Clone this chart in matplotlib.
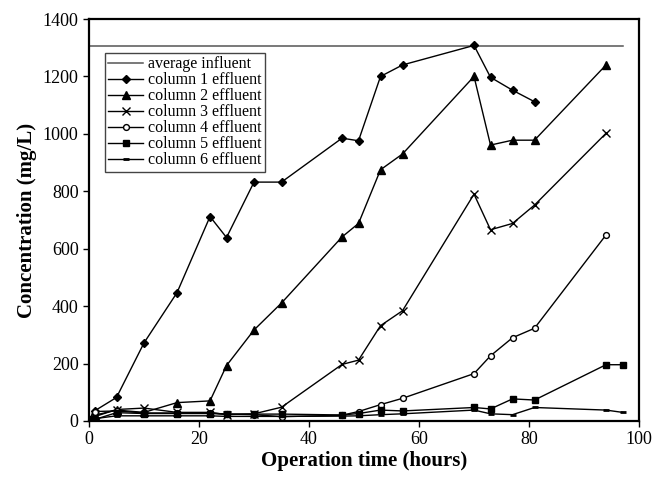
import numpy as np
import matplotlib
matplotlib.use('Agg')
import matplotlib.pyplot as plt

plt.rcParams['font.family'] = ['Liberation Serif', 'DejaVu Serif']

# Concentrations (mg/L) against operation time (hours)
influent_t = [0, 97]
influent_c = [1305, 1305]

col1_t = [0, 1, 5, 10, 16, 22, 25, 30, 35, 46, 49, 53, 57, 70, 73, 77, 81]
col1_c = [5, 35, 82, 272, 447, 712, 639, 832, 832, 985, 976, 1200, 1240, 1308, 1197, 1152, 1112]

col2_t = [0, 1, 5, 10, 16, 22, 25, 30, 35, 46, 49, 53, 57, 70, 73, 77, 81, 94]
col2_c = [5, 20, 38, 30, 64, 70, 193, 317, 411, 641, 688, 875, 930, 1200, 961, 978, 978, 1240]

col3_t = [0, 1, 5, 10, 16, 22, 25, 30, 35, 46, 49, 53, 57, 70, 73, 77, 81, 94]
col3_c = [5, 15, 40, 45, 30, 30, 22, 25, 48, 197, 212, 332, 384, 790, 666, 688, 752, 1002]

col4_t = [0, 1, 5, 10, 16, 22, 25, 30, 35, 46, 49, 53, 57, 70, 73, 77, 81, 94]
col4_c = [5, 33, 35, 28, 28, 28, 24, 22, 15, 20, 33, 57, 79, 165, 227, 290, 323, 648]

col5_t = [0, 1, 5, 10, 16, 22, 25, 30, 35, 46, 49, 53, 57, 70, 73, 77, 81, 94, 97]
col5_c = [0, 5, 29, 26, 26, 26, 24, 24, 24, 21, 26, 38, 35, 47, 42, 77, 73, 196, 196]

col6_t = [0, 1, 5, 10, 16, 22, 25, 30, 35, 46, 49, 53, 57, 70, 73, 77, 81, 94, 97]
col6_c = [0, 8, 18, 18, 18, 18, 16, 16, 16, 17, 18, 22, 25, 38, 25, 22, 47, 38, 30]

fig = plt.figure(figsize=(6.55, 4.79), dpi=100)
ax = fig.add_axes([0.1359, 0.1211, 0.8397, 0.8392])

ax.plot(influent_t, influent_c, color='#555555', lw=1.1, label='average influent')
ax.plot(col1_t, col1_c, color='black', lw=1, marker='D', ms=4.5, label='column 1 effluent')
ax.plot(col2_t, col2_c, color='black', lw=1, marker='^', ms=5.5, label='column 2 effluent')
ax.plot(col3_t, col3_c, color='black', lw=1, marker='x', ms=6, mew=1, label='column 3 effluent')
ax.plot(col4_t, col4_c, color='black', lw=1, marker='o', ms=4.2, mfc='white', mew=1,
        label='column 4 effluent')
ax.plot(col5_t, col5_c, color='black', lw=1, marker='s', ms=4.8, label='column 5 effluent')
ax.plot(col6_t, col6_c, color='black', lw=1, marker='_', ms=5, mew=2, label='column 6 effluent')

ax.set_xlim(0, 100)
ax.set_ylim(0, 1400)
ax.set_xticks(np.arange(0, 101, 20))
ax.set_yticks(np.arange(0, 1401, 200))
ax.tick_params(direction='out', length=4, width=1, labelsize=13, colors='black')
for s in ax.spines.values():
    s.set_linewidth(1.6)

ax.set_xlabel('Operation time (hours)', fontsize=15, fontweight='bold', labelpad=2)
ax.set_ylabel('Concentration (mg/L)', fontsize=15, fontweight='bold', labelpad=4)

leg = ax.legend(loc='upper left', bbox_to_anchor=(0.029, 0.915), fontsize=11.5,
                frameon=True, fancybox=False, edgecolor='#444444', framealpha=1,
                borderpad=0.2, labelspacing=0.0, handlelength=2.2, handletextpad=0.3,
                borderaxespad=0)
leg.get_frame().set_linewidth(1)

fig.savefig('out.png', dpi=100)
